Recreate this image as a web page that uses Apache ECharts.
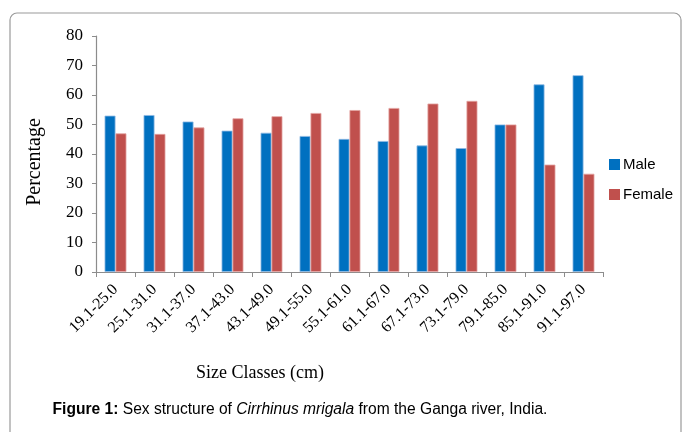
<!DOCTYPE html>
<html>
<head>
<meta charset="utf-8">
<script src="https://cdn.jsdelivr.net/npm/echarts@6/dist/echarts.min.js"></script>
<style>html,body{margin:0;padding:0;background:#fff;}#c{width:683px;height:432px;}</style>
</head>
<body>
<div id="c"></div>
<script>
const categories = ['19.1-25.0','25.1-31.0','31.1-37.0','37.1-43.0','43.1-49.0','49.1-55.0','55.1-61.0','61.1-67.0','67.1-73.0','73.1-79.0','79.1-85.0','85.1-91.0','91.1-97.0'];
const male = [53.0, 53.2, 51.0, 47.9, 47.2, 46.1, 45.1, 44.4, 42.9, 42.0, 50.0, 63.6, 66.7];
const female = [47.0, 46.8, 49.0, 52.1, 52.8, 53.9, 54.9, 55.6, 57.1, 58.0, 50.0, 36.4, 33.3];
const yTicks = [0, 10, 20, 30, 40, 50, 60, 70, 80];

const chart = echarts.init(document.getElementById('c'));
const serif = '"Liberation Serif", "Times New Roman", serif';
chart.setOption({
  animation: false,
  backgroundColor: '#fff',
  grid: { left: 96, top: 36, right: 80, bottom: 160, containLabel: false },
  legend: {
    orient: 'vertical', left: 604, top: 152,
    itemWidth: 11, itemHeight: 11, itemGap: 15,
    icon: 'rect',
    itemStyle: { borderWidth: 0 },
    textStyle: { fontFamily: '"Liberation Sans", Arial, sans-serif', fontSize: 15, color: '#000', padding: [0,0,0,-2] },
    data: ['Male', 'Female']
  },
  xAxis: {
    type: 'category', data: categories,
    axisLine: { lineStyle: { color: '#8c8c8c', width: 1.2 } },
    axisTick: { show: true, length: 5, lineStyle: { color: '#8c8c8c' } },
    axisLabel: { rotate: 45, interval: 0, fontFamily: serif, fontSize: 16, color: '#000', margin: 15 }
  },
  yAxis: {
    type: 'value', min: yTicks[0], max: yTicks[yTicks.length-1], interval: 10,
    splitLine: { show: false },
    axisLine: { show: true, lineStyle: { color: '#8c8c8c', width: 1.2 } },
    axisTick: { show: true, length: 4, lineStyle: { color: '#8c8c8c' } },
    axisLabel: { fontFamily: serif, fontSize: 17, color: '#000', margin: 13 }
  },
  series: [
    { name: 'Male', type: 'bar', data: male, barGap: '0%', barCategoryGap: '44%',
      itemStyle: { color: '#0070C0', borderColor: '#8EB9E3', borderWidth: 0.8 } },
    { name: 'Female', type: 'bar', data: female,
      itemStyle: { color: '#C0504D', borderColor: '#E3A3A1', borderWidth: 0.8 } }
  ],
  graphic: [
    { type: 'rect', shape: { x: 10, y: 13, width: 671, height: 450, r: 7 },
      style: { fill: 'none', stroke: '#9a9a9a', lineWidth: 1.2 }, z: -1 },
    { type: 'text', x: 35, y: 162, rotation: Math.PI/2,
      style: { text: 'Percentage', font: '20px ' + serif, fill: '#000', align: 'center', verticalAlign: 'middle' } },
    { type: 'text', x: 260, y: 373,
      style: { text: 'Size Classes (cm)', font: '18px ' + serif, fill: '#000', align: 'center', verticalAlign: 'middle' } },
    { type: 'text', x: 300, y: 410,
      style: {
        text: '{b|Figure 1:} Sex structure of {i|Cirrhinus mrigala} from the Ganga river, India.',
        align: 'center', verticalAlign: 'middle',
        font: '15.6px "Liberation Sans", Arial, sans-serif', fill: '#000',
        rich: {
          b: { fontWeight: 'bold', fontSize: 15.6, fontFamily: '"Liberation Sans", Arial, sans-serif', fill: '#000' },
          i: { fontStyle: 'italic', fontSize: 15.6, fontFamily: '"Liberation Sans", Arial, sans-serif', fill: '#000' }
        }
      } }
  ]
});
</script>
</body>
</html>
